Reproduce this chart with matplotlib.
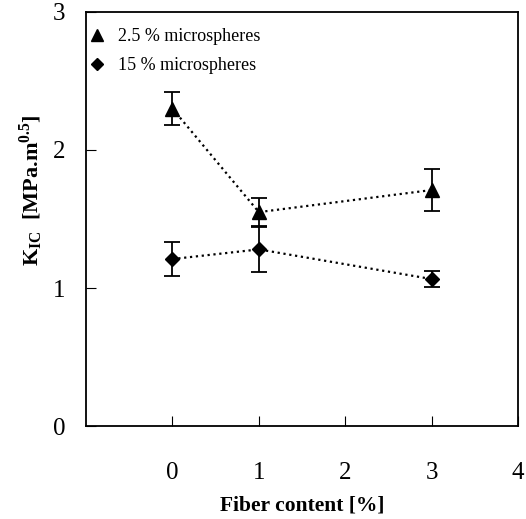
import numpy as np
import matplotlib
matplotlib.use("Agg")
import matplotlib.pyplot as plt

plt.rcParams['font.family'] = ['Liberation Serif', 'DejaVu Serif']
plt.rcParams['mathtext.fontset'] = 'custom'
plt.rcParams['mathtext.rm'] = 'Liberation Serif'
plt.rcParams['mathtext.bf'] = 'Liberation Serif:bold'

# fiber content [%]
x25 = [0, 1, 3]
y25 = [2.30, 1.55, 1.71]
e25 = [0.12, 0.10, 0.15]

x15 = [0, 1, 3]
y15 = [1.21, 1.28, 1.065]
e15 = [0.125, 0.165, 0.055]

fig = plt.figure(figsize=(5.26, 5.19), dpi=100)
ax = fig.add_axes([0.1635, 0.179, 0.8215, 0.798])

ax.plot(x25, y25, ":", color="black", linewidth=1.6)
ax.plot(x15, y15, ":", color="black", linewidth=1.6)
ax.errorbar(x25, y25, yerr=e25, fmt="none", ecolor="black", elinewidth=1.3, capsize=6, capthick=1.3)
ax.errorbar(x15, y15, yerr=e15, fmt="none", ecolor="black", elinewidth=1.3, capsize=6, capthick=1.3)
ax.plot(x25, y25, "^", color="black", markersize=10, linestyle="none", label="2.5 % microspheres")
ax.plot(x15, y15, "D", color="black", markersize=7.5, linestyle="none", label="15 % microspheres")

ax.set_xlim(-1, 4)
ax.set_ylim(0, 3)
ax.set_xticks([0, 1, 2, 3, 4])
ax.set_yticks([0, 1, 2, 3])
ax.tick_params(axis="x", direction="in", length=7, pad=26, labelsize=18)
ax.tick_params(axis="y", direction="in", length=7, pad=15, labelsize=18)
for s in ax.spines.values():
    s.set_linewidth(1.3)

ax.set_xlabel("Fiber content [%]", fontsize=15.5, fontweight="bold", labelpad=8)
ax.set_ylabel(r"$\mathbf{K_{IC}}$  [MPa.m$^{\mathbf{0.5}}$]", fontsize=16, fontweight="bold")
ax.yaxis.set_label_coords(-0.095, 0.57)

ax.legend(loc="upper left", bbox_to_anchor=(-0.025, 1.0), frameon=False, fontsize=13,
          handlelength=0.6, handletextpad=0.85, borderaxespad=0.5, labelspacing=0.65,
          markerscale=0.85)

fig.savefig("out.png", dpi=100)
